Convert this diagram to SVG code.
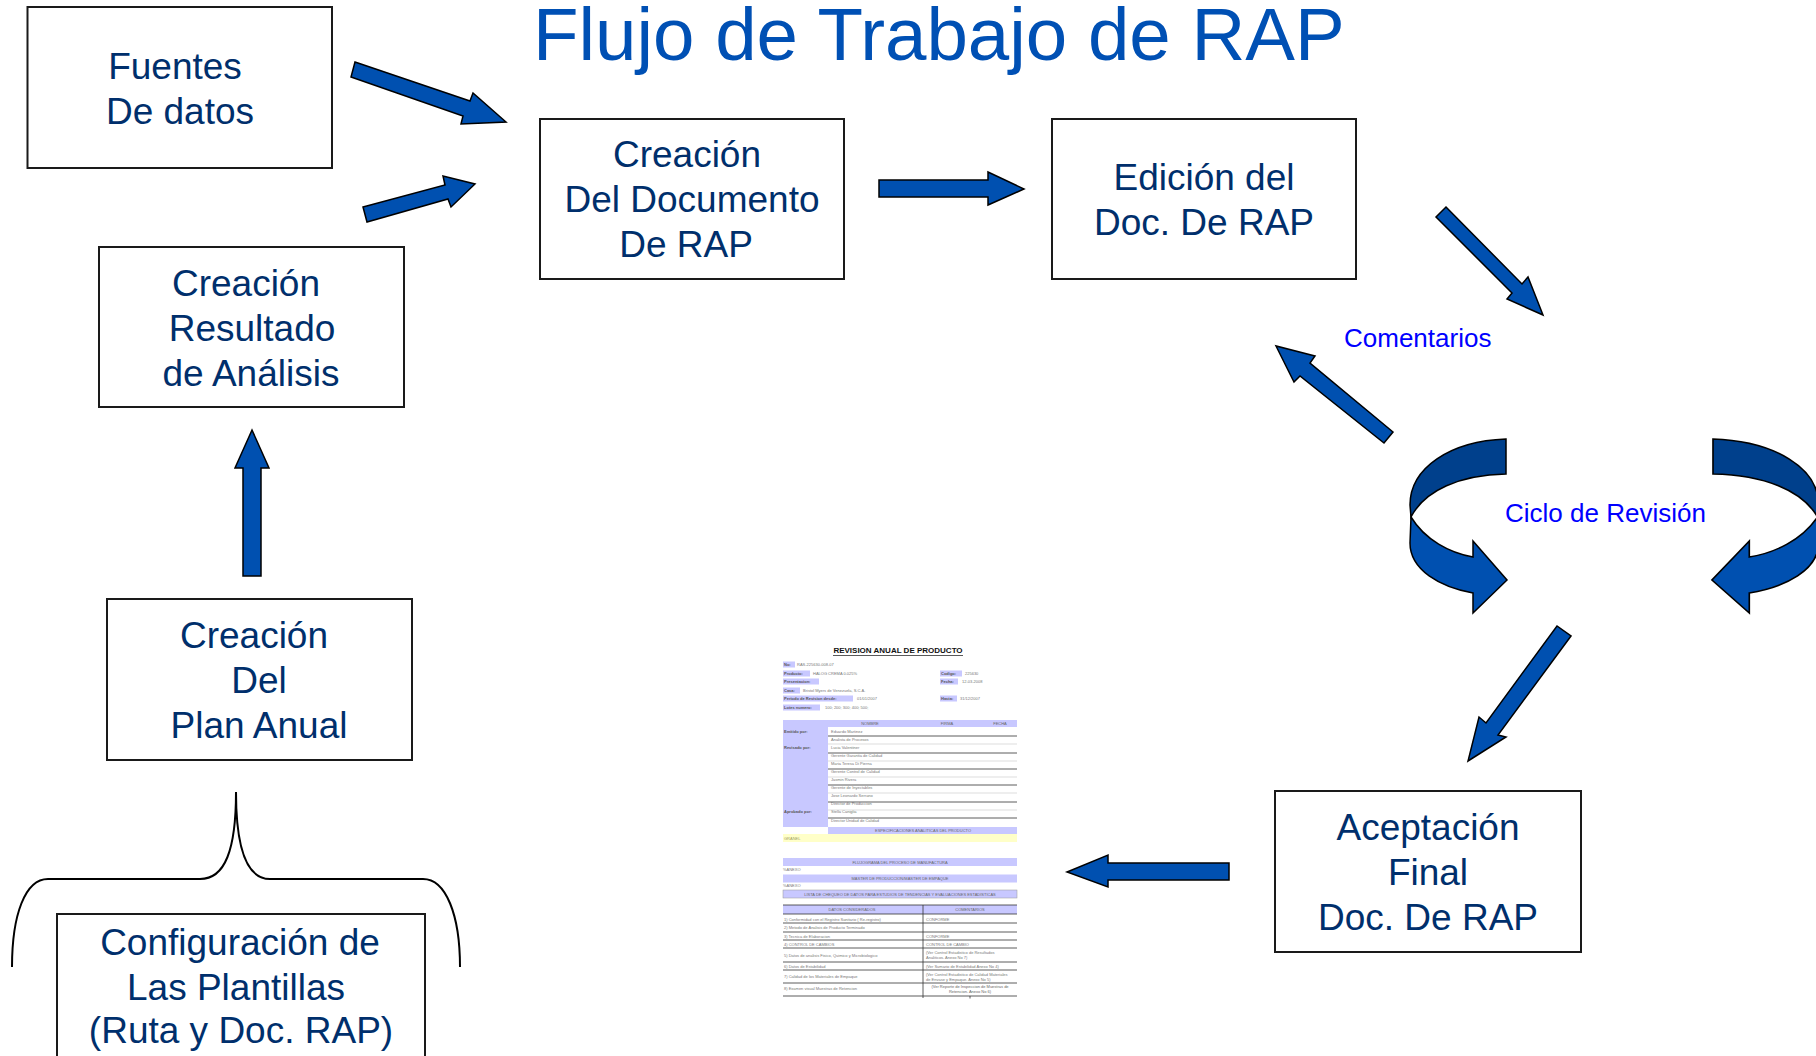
<svg xmlns="http://www.w3.org/2000/svg" width="1816" height="1056" viewBox="0 0 1816 1056">
<style>
.box{fill:#fff;stroke:#1a1a1a;stroke-width:2}
.nt{font-family:"Liberation Sans",Arial,sans-serif;font-size:37px;fill:#002F6C;text-anchor:middle}
.arr{fill:#0050B0;stroke:#000;stroke-width:1.5;stroke-linejoin:miter}
.dk{fill:#00408C;stroke:#000;stroke-width:1.5;stroke-linejoin:miter}
.lbl{font-family:"Liberation Sans",Arial,sans-serif;font-size:26px;fill:#0000FF}
.brace{fill:none;stroke:#000;stroke-width:2}
.t{font-family:"Liberation Sans",Arial,sans-serif;font-size:4px;fill:#777}
.tb{font-family:"Liberation Sans",Arial,sans-serif;font-size:4px;fill:#555;font-weight:bold}
.tc{font-family:"Liberation Sans",Arial,sans-serif;font-size:4px;fill:#666;text-anchor:middle}
.lav{fill:#C8C8FF}
.ld{stroke:#333;stroke-width:0.8}
.ll{stroke:#bbb;stroke-width:0.5}
</style>
<rect width="1816" height="1056" fill="#fff"/>
<text x="533" y="60" font-family="Liberation Sans, Arial, sans-serif" font-size="74.5" fill="#0050B4">Flujo de Trabajo de RAP</text>

<g id="node-fuentes">
<rect class="box" x="27.5" y="7" width="304.5" height="161"/>
<text class="nt" x="175" y="79">Fuentes</text>
<text class="nt" x="180" y="124">De datos</text>
</g>
<g id="node-creacion-doc">
<rect class="box" x="540" y="119" width="304" height="160"/>
<text class="nt" x="687" y="167">Creación</text>
<text class="nt" x="692" y="212">Del Documento</text>
<text class="nt" x="686" y="257">De RAP</text>
</g>
<g id="node-edicion">
<rect class="box" x="1052" y="119" width="304" height="160"/>
<text class="nt" x="1204" y="190">Edición del</text>
<text class="nt" x="1204" y="235">Doc. De RAP</text>
</g>
<g id="node-resultado">
<rect class="box" x="99" y="247" width="305" height="160"/>
<text class="nt" x="246" y="296">Creación</text>
<text class="nt" x="252" y="341">Resultado</text>
<text class="nt" x="251" y="386">de Análisis</text>
</g>
<g id="node-plan">
<rect class="box" x="107" y="599" width="305" height="161"/>
<text class="nt" x="254" y="648">Creación</text>
<text class="nt" x="259" y="693">Del</text>
<text class="nt" x="259" y="738">Plan Anual</text>
</g>
<g id="node-config">
<rect class="box" x="57" y="914" width="368" height="170"/>
<text class="nt" x="240" y="955">Configuración de</text>
<text class="nt" x="236" y="1000">Las Plantillas</text>
<text class="nt" x="241" y="1043">(Ruta y Doc. RAP)</text>
</g>
<g id="node-aceptacion">
<rect class="box" x="1275" y="791" width="306" height="161"/>
<text class="nt" x="1428" y="840">Aceptación</text>
<text class="nt" x="1428" y="885">Final</text>
<text class="nt" x="1428" y="930">Doc. De RAP</text>
</g>

<g id="connectors">
<polygon class="arr" points="355,62 470,101 473,93 506,122 461,124 463,116 351,77"/>
<polygon class="arr" points="363,207 445,185 443,176 475,184 451,207 448,199 367,222"/>
<polygon class="arr" points="879,180 988,180 988,172 1024,189 988,205 988,197 879,197"/>
<polygon class="arr" points="243,576 243,468 235,468 252,430 269,468 261,468 261,576"/>
<polygon class="arr" points="1446,207 1522,284 1528,277 1543,315 1507,299 1512,293 1436,217"/>
<polygon class="arr" points="1393,432 1310,363 1315,356 1276,346 1294,382 1300,376 1384,443"/>
<polygon class="arr" points="1571,636 1498,735 1506,737 1468,761 1479,717 1486,723 1557,626"/>
<polygon class="arr" points="1229,863 1108,863 1108,855 1067,872 1108,887 1108,880 1229,880"/>
<g id="curved-left">
<path class="dk" d="M1506,439 C1450,441 1410,468 1410,505 L1411,517 C1425,490 1460,475 1506,474 Z"/>
<path class="arr" d="M1411,517 C1425,540 1450,553 1473,557 L1473,541 L1507,580 L1473,613 L1473,593 C1440,587 1410,570 1410,543 Z"/>
</g>
<g id="curved-right" transform="translate(3369.6,0) scale(-1.1,1)">
<path class="dk" d="M1506,439 C1450,441 1410,468 1410,505 L1411,517 C1425,490 1460,475 1506,474 Z"/>
<path class="arr" d="M1411,517 C1425,540 1450,553 1473,557 L1473,541 L1507,580 L1473,613 L1473,593 C1440,587 1410,570 1410,543 Z"/>
</g>
<path id="brace" class="brace" d="M12,967 C12,915 25,879 48,879 L200,879 C225,879 236,850 236,792 C236,850 247,879 270,879 L423,879 C446,879 460,915 460,967"/>
</g>

<text class="lbl" x="1344" y="347">Comentarios</text>
<text class="lbl" x="1505" y="522">Ciclo de Revisión</text>

<g id="doc-thumbnail">
<text x="898" y="653" text-anchor="middle" font-family="Liberation Sans, Arial, sans-serif" font-size="8" font-weight="bold" fill="#111">REVISION ANUAL DE PRODUCTO</text>
<line x1="833" y1="655.5" x2="963" y2="655.5" stroke="#111" stroke-width="0.7"/>
<rect class="lav" x="783" y="661.5" width="12" height="6"/>
<rect class="lav" x="783" y="670.5" width="27" height="6"/>
<rect class="lav" x="783" y="678.5" width="36" height="6"/>
<rect class="lav" x="783" y="687.5" width="17" height="6"/>
<rect class="lav" x="783" y="695.5" width="70" height="6"/>
<rect class="lav" x="783" y="704.5" width="37" height="6"/>
<rect class="lav" x="940" y="670.5" width="22" height="6"/>
<rect class="lav" x="940" y="678.5" width="18" height="6"/>
<rect class="lav" x="940" y="695.5" width="17" height="6"/>
<text class="tb" x="784" y="666">No:</text><text class="t" x="797" y="666">RAS-225630-008-07</text>
<text class="tb" x="784" y="675">Producto:</text><text class="t" x="813" y="675">HALOG CREMA 0.025%</text>
<text class="tb" x="784" y="683">Presentacion:</text>
<text class="tb" x="784" y="692">Casa:</text><text class="t" x="803" y="692">Bristol Myers de Venezuela, S.C.A.</text>
<text class="tb" x="784" y="700">Periodo de Revision desde:</text><text class="t" x="857" y="700">01/01/2007</text>
<text class="tb" x="784" y="709">Lotes numero:</text><text class="t" x="825" y="709">100; 200; 300; 400; 500;</text>
<text class="tb" x="941" y="675">Codigo:</text><text class="t" x="965" y="675">225630</text>
<text class="tb" x="941" y="683">Fecha:</text><text class="t" x="962" y="683">12-03-2008</text>
<text class="tb" x="941" y="700">Hasta:</text><text class="t" x="960" y="700">31/12/2007</text>

<rect class="lav" x="783" y="720" width="234" height="7"/>
<rect class="lav" x="783" y="727" width="45" height="100"/>
<text class="tc" x="870" y="725">NOMBRE</text><text class="tc" x="947" y="725">FIRMA</text><text class="tc" x="1000" y="725">FECHA</text>
<text class="tb" x="784" y="733">Emitido por:</text>
<text class="tb" x="784" y="749">Revisado por:</text>
<text class="tb" x="784" y="813">Aprobado por:</text>
<text class="t" x="831" y="733">Eduardo Martinez</text>
<text class="t" x="831" y="741">Analista de Procesos</text>
<text class="t" x="831" y="749">Lucia Valentiner</text>
<text class="t" x="831" y="757">Gerente Garantia de Calidad</text>
<text class="t" x="831" y="765">Maria Teresa Di Pierna</text>
<text class="t" x="831" y="773">Gerente Control de Calidad</text>
<text class="t" x="831" y="781">Jasmin Rivera</text>
<text class="t" x="831" y="789">Gerente de Inyectables</text>
<text class="t" x="831" y="797">Jose Leonardo Serrano</text>
<text class="t" x="831" y="805">Director de Produccion</text>
<text class="t" x="831" y="813">Stella Caniglia</text>
<text class="t" x="831" y="822">Director Unidad de Calidad</text>
<line class="ld" x1="828" y1="736" x2="1017" y2="736"/>
<line class="ll" x1="828" y1="744" x2="1017" y2="744"/>
<line class="ld" x1="828" y1="753" x2="1017" y2="753"/>
<line class="ll" x1="828" y1="761" x2="1017" y2="761"/>
<line class="ld" x1="828" y1="769" x2="1017" y2="769"/>
<line class="ll" x1="828" y1="777" x2="1017" y2="777"/>
<line class="ld" x1="828" y1="785" x2="1017" y2="785"/>
<line class="ll" x1="828" y1="793" x2="1017" y2="793"/>
<line class="ld" x1="828" y1="802" x2="1017" y2="802"/>
<line class="ll" x1="828" y1="810" x2="1017" y2="810"/>
<line class="ld" x1="828" y1="818" x2="1017" y2="818"/>
<rect class="lav" x="828" y="827" width="189" height="7"/>
<text class="tc" x="923" y="832">ESPECIFICACIONES ANALITICAS DEL PRODUCTO</text>
<rect x="783" y="834" width="234" height="8" fill="#FFFFC8"/>
<text x="784" y="840" font-family="Liberation Sans, Arial, sans-serif" font-size="4" fill="#A0A060">GRANEL</text>

<rect class="lav" x="783" y="858" width="234" height="8"/>
<text class="tc" x="900" y="864">FLUJOGRAMA DEL PROCESO DE MANUFACTURA</text>
<text class="t" x="783" y="871">%ANEXO</text>
<rect class="lav" x="783" y="874.5" width="234" height="8"/>
<text class="tc" x="900" y="880">MASTER DE PRODUCCION/MASTER DE EMPAQUE</text>
<text class="t" x="783" y="887">%ANEXO</text>
<rect class="lav" x="783" y="890" width="234" height="8" stroke="#999" stroke-width="0.5"/>
<text class="tc" x="900" y="896" font-size="3.9">LISTA DE CHEQUEO DE DATOS PARA ESTUDIOS DE TENDENCIAS Y EVALUACIONES ESTADISTICAS</text>
<rect class="lav" x="783" y="905" width="234" height="9"/>
<line class="ld" x1="783" y1="905" x2="1017" y2="905"/>
<text class="tc" x="852" y="911">DATOS CONSIDERADOS</text>
<text class="tc" x="970" y="911">COMENTARIOS</text>
<line class="ld" x1="923" y1="905" x2="923" y2="998"/>
<line class="ld" x1="970" y1="996" x2="970" y2="998.5"/>
<line class="ld" x1="783" y1="914" x2="1017" y2="914"/>
<line class="ld" x1="783" y1="923" x2="1017" y2="923"/>
<line class="ld" x1="783" y1="932" x2="1017" y2="932"/>
<line class="ld" x1="783" y1="940" x2="1017" y2="940"/>
<line class="ld" x1="783" y1="948" x2="1017" y2="948"/>
<line class="ld" x1="783" y1="962" x2="1017" y2="962"/>
<line class="ld" x1="783" y1="970" x2="1017" y2="970"/>
<line class="ld" x1="783" y1="983" x2="1017" y2="983"/>
<line class="ld" x1="783" y1="996" x2="1017" y2="996"/>
<text class="t" x="784" y="920.5">1) Conformidad con el Registro Sanitario ( Re-registro)</text>
<text class="t" x="926" y="920.5">CONFORME</text>
<text class="t" x="784" y="929">2) Metodo de Analisis de Producto Terminado</text>
<text class="t" x="784" y="938">3) Tecnica de Elaboracion</text>
<text class="t" x="926" y="938">CONFORME</text>
<text class="t" x="784" y="946">4) CONTROL DE CAMBIOS</text>
<text class="t" x="926" y="946">CONTROL DE CAMBIO</text>
<text class="t" x="784" y="956.5">5) Datos de analisis Fisico, Quimico y Microbiologico</text>
<text class="t" x="926" y="954" font-size="3.8">(Ver Control Estadistico de Resultados</text>
<text class="t" x="926" y="959" font-size="3.8">Analiticos. Anexo No 7)</text>
<text class="t" x="784" y="967.5">6) Datos de Estabilidad</text>
<text class="t" x="926" y="967.5" font-size="3.8">(Ver Sumario de Estabilidad Anexo No 4)</text>
<text class="t" x="784" y="978">7) Calidad de los Materiales de Empaque</text>
<text class="t" x="926" y="975.5" font-size="3.8">(Ver Control Estadistico de Calidad Materiales</text>
<text class="t" x="926" y="980.5" font-size="3.8">de Envase y Empaque. Anexo No 5)</text>
<text class="t" x="784" y="990">8) Examen visual Muestras de Retencion</text>
<text class="tc" x="970" y="988" font-size="3.8">(Ver Reporte de Inspeccion de Muestras de</text>
<text class="tc" x="970" y="993" font-size="3.8">Retencion. Anexo No 6)</text>
</g>
</svg>
